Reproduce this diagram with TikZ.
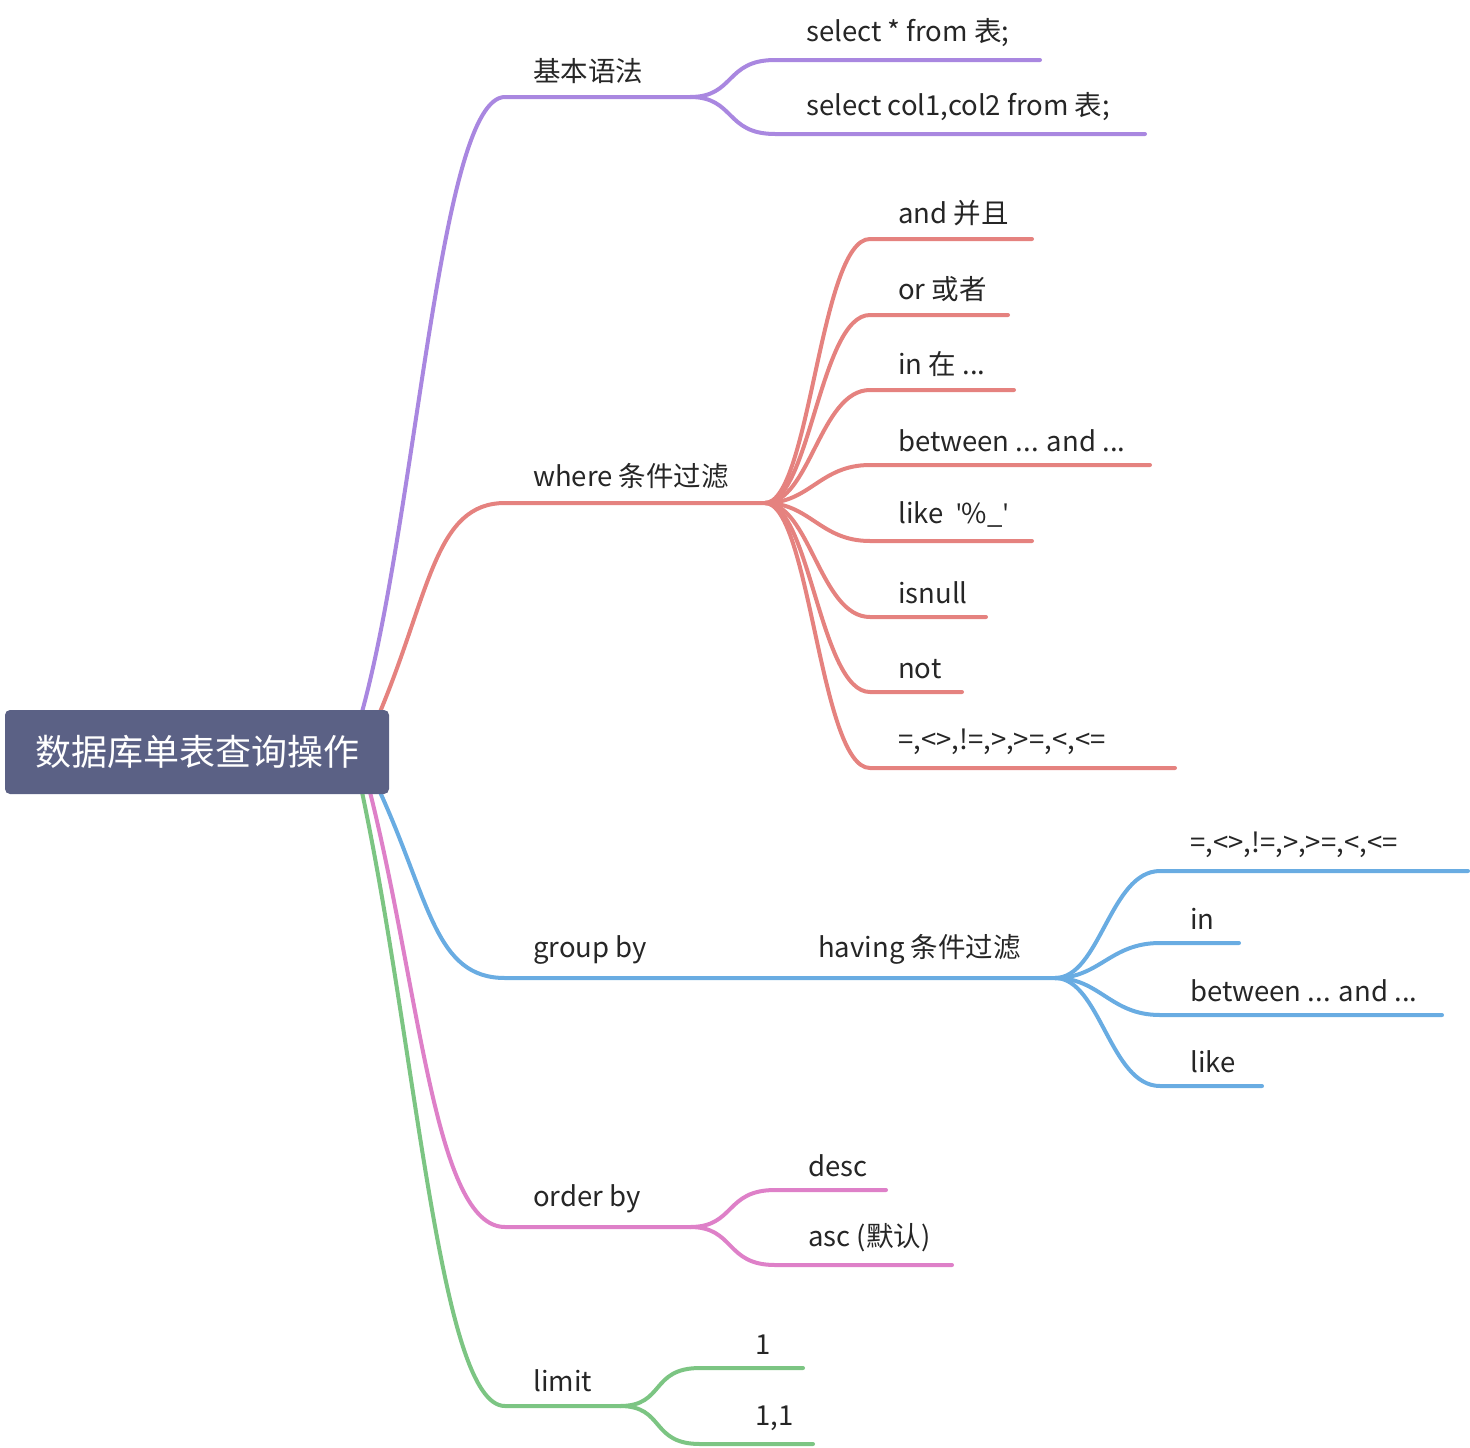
\documentclass[tikz,border=0pt]{standalone}
\usepackage{fontspec}
\setmainfont{Noto Sans CJK SC}
\newfontfamily\libq{Open Sans}
\begin{document}
\begin{tikzpicture}[x=1pt,y=-1pt,
 br/.style={line width=4pt,line cap=round},
 lbl/.style={anchor=south west,inner sep=0pt,font=\fontsize{27.5}{30}\selectfont,text=black!85},
 pu/.style={br,draw={rgb,255:red,169;green,135;blue,224}},
 re/.style={br,draw={rgb,255:red,229;green,130;blue,127}},
 bl/.style={br,draw={rgb,255:red,105;green,172;blue,226}},
 pk/.style={br,draw={rgb,255:red,222;green,128;blue,200}},
 gr/.style={br,draw={rgb,255:red,124;green,197;blue,131}}]
\useasboundingbox (0,0) rectangle (1470,1448);
\coordinate (rp) at (362,712); \coordinate (rr) at (380,712);
\coordinate (rb) at (380,792); \coordinate (rk) at (370,792); \coordinate (rg) at (362,792);
\coordinate (p0) at (505,97); \coordinate (p1) at (690,97);
\coordinate (w0) at (505,503); \coordinate (w1) at (765,503);
\coordinate (g0) at (505,978); \coordinate (g1) at (1060,978);
\coordinate (o0) at (505,1227); \coordinate (o1) at (690,1227);
\coordinate (l0) at (505,1406); \coordinate (l1) at (620,1406);
\draw[pu] (rp) .. controls +(55,-200) and +(-65,0) .. (p0) -- (p1);
\draw[re] (rr) .. controls +(50,-120) and +(-70,0) .. (w0) -- (w1);
\draw[bl] (rb) .. controls +(50,110) and +(-70,0) .. (g0) -- (g1);
\draw[pk] (rk) .. controls +(50,200) and +(-70,0) .. (o0) -- (o1);
\draw[gr] (rg) .. controls +(55,260) and +(-65,0) .. (l0) -- (l1);
\node[rounded corners=5pt,fill={rgb,255:red,91;green,97;blue,133},minimum width=384pt,minimum height=84pt,inner sep=0pt,text=white,font=\fontsize{36}{40}\selectfont] (root) at (197,752) {数据库单表查询操作};
\node[lbl] (t1) at (533,84) {基本语法};
\node[lbl] (t2) at (533,489) {where 条件过滤};
\node[lbl] (t3) at (533,965) {group by};
\node[lbl] (t3b) at (818,965) {having 条件过滤};
\node[lbl] (t4) at (533,1213) {order by};
\node[lbl] (t5) at (533,1392) {limit};
\foreach \sty/\sx/\sy/\ex/\tx/\y/\e/\t [count=\i] in {
 pu/690/97/775/806/60/1040/{select * from 表;},
 pu/690/97/775/806/134/1145/{select col1,col2 from 表;},
 re/765/503/870/898/239/1032/{and 并且},
 re/765/503/870/898/315/1008/{or 或者},
 re/765/503/870/898/390/1014/{in 在 ...},
 re/765/503/870/898/465/1150/{between ... and ...},
 re/765/503/870/898/541/1032/{like \ {\libq\char39}\%\_{\libq\char39}},
 re/765/503/870/898/617/986/{isnull},
 re/765/503/870/898/692/962/{not},
 re/765/503/870/898/768/1175/{=,<>,!=,>,>=,<,<=},
 bl/1055/978/1160/1190/871/1468/{=,<>,!=,>,>=,<,<=},
 bl/1055/978/1160/1190/943/1239/{in},
 bl/1055/978/1160/1190/1015/1442/{between ... and ...},
 bl/1055/978/1160/1190/1086/1262/{like},
 pk/690/1227/775/808/1190/886/{desc},
 pk/690/1227/775/808/1265/952/{asc (默认)},
 gr/620/1406/700/755/1368/803/{1},
 gr/620/1406/700/755/1444/813/{1,1}}{
 \coordinate (s\i) at (\sx,\sy);
 \coordinate (a\i) at (\ex,\y);
 \coordinate (b\i) at (\e,\y);
 \draw[\sty] (s\i) .. controls +(45,0) and +(-50,0) .. (a\i) -- (b\i);
 \node[lbl] (n\i) at (\tx,\y-13) {\t};
}
\end{tikzpicture}
\end{document}
